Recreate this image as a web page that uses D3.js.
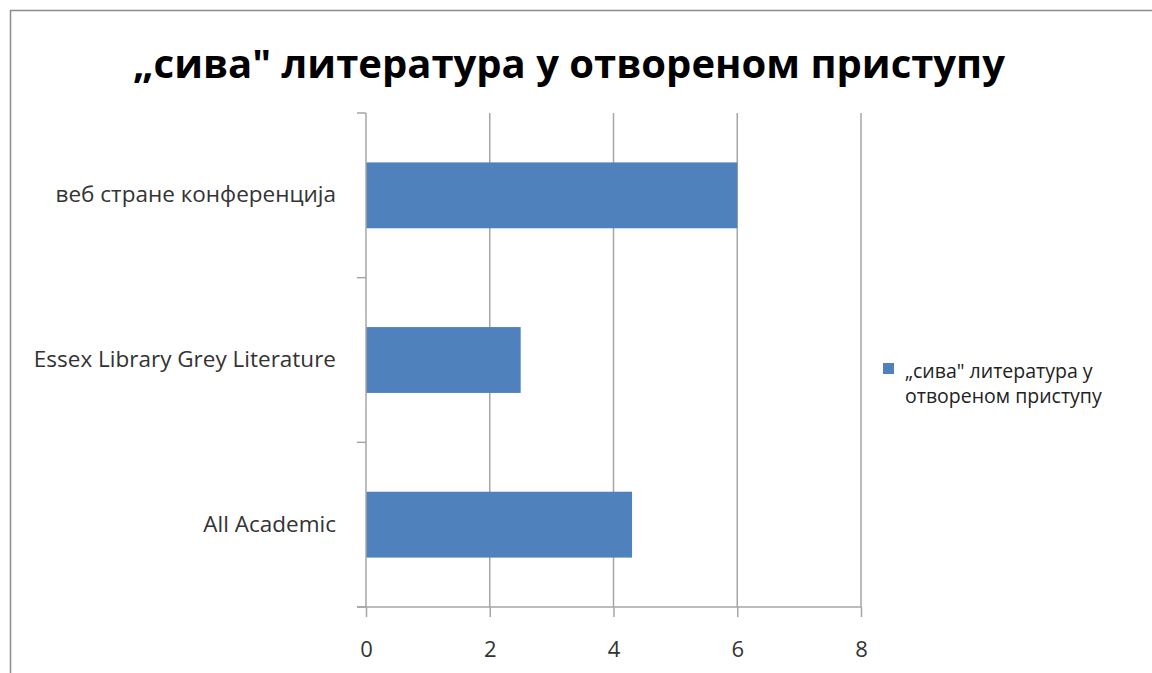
<!DOCTYPE html>
<html>
<head>
<meta charset="utf-8">
<script src="https://cdn.jsdelivr.net/npm/d3@7"></script>
<style>
  html, body { margin: 0; padding: 0; background: #fff; }
  svg { display: block; font-family: 'Open Sans', 'Noto Sans', sans-serif; }
</style>
</head>
<body>
<div id="chart-area"></div>
<script>
const title = '„сива" литература у отвореном приступу';
const categories = ['веб стране конференција', 'Essex Library Grey Literature', 'All Academic'];
const values = [6, 2.5, 4.3];
const xTicks = [0, 2, 4, 6, 8];
const seriesName = ['„сива" литература у', 'отвореном приступу'];

let width = 1152;
let height = 673;
let plot = { left: 366, right: 861, top: 113, bottom: 607 };
let barColor = '#4f81bd';
let gridColor = '#a6a6a6';
let font = "'Open Sans', 'Noto Sans', sans-serif";

let svg = d3
  .select('#chart-area')
  .append('svg')
  .attr('width', width)
  .attr('height', height);

//outer frame
svg
  .append('rect')
  .attr('x', 10.5)
  .attr('y', 10.5)
  .attr('width', width + 20)
  .attr('height', height + 20)
  .attr('fill', 'none')
  .attr('stroke', '#8c8c8c')
  .attr('stroke-width', 1.5);

let xScale = d3.scaleLinear().domain([0, 8]).range([plot.left, plot.right]);
let yScale = d3
  .scaleBand()
  .domain(categories)
  .range([plot.top, plot.bottom])
  .paddingInner(0.6)
  .paddingOuter(0.3);

//gridlines
svg
  .append('g')
  .selectAll('line')
  .data(xTicks.slice(1))
  .enter()
  .append('line')
  .attr('x1', (d) => xScale(d))
  .attr('x2', (d) => xScale(d))
  .attr('y1', plot.top)
  .attr('y2', plot.bottom)
  .attr('stroke', gridColor)
  .attr('stroke-width', 1.5);

//bars
svg
  .append('g')
  .selectAll('rect')
  .data(values)
  .enter()
  .append('rect')
  .attr('x', xScale(0))
  .attr('y', (d, i) => yScale(categories[i]))
  .attr('width', (d) => xScale(d) - xScale(0))
  .attr('height', yScale.bandwidth())
  .attr('fill', barColor);

//x axis
let xAxis = d3.axisBottom(xScale).tickValues(xTicks).tickSize(10).tickPadding(24);
let gx = svg
  .append('g')
  .attr('transform', `translate(0, ${plot.bottom})`)
  .call(xAxis)
  .attr('font-family', font);
gx.select('.domain').attr('stroke', gridColor).attr('stroke-width', 1.5)
  .attr('d', `M${plot.left - 9},0H${plot.right}`);
gx.selectAll('.tick line').attr('stroke', gridColor).attr('stroke-width', 1.5);
gx.selectAll('.tick text').attr('font-size', 22).attr('fill', '#333');

//y axis
let yEdges = d3.range(categories.length + 1).map(
  (i) => plot.top + (i * (plot.bottom - plot.top)) / categories.length,
);
let gy = svg.append('g');
gy.append('line')
  .attr('x1', plot.left)
  .attr('x2', plot.left)
  .attr('y1', plot.top)
  .attr('y2', plot.bottom)
  .attr('stroke', gridColor)
  .attr('stroke-width', 1.5);
gy.selectAll('.ytick')
  .data(yEdges)
  .enter()
  .append('line')
  .attr('x1', plot.left - 9)
  .attr('x2', plot.left)
  .attr('y1', (d) => d)
  .attr('y2', (d) => d)
  .attr('stroke', gridColor)
  .attr('stroke-width', 1.5);
gy.selectAll('text')
  .data(categories)
  .enter()
  .append('text')
  .attr('x', plot.left - 30)
  .attr('y', (d) => yScale(d) + yScale.bandwidth() / 2 + 7)
  .attr('text-anchor', 'end')
  .attr('font-size', 22.5)
  .attr('fill', '#333')
  .text((d) => d);

//title
svg
  .append('text')
  .attr('x', 569)
  .attr('y', 78)
  .attr('text-anchor', 'middle')
  .attr('font-size', 40)
  .attr('font-weight', 'bold')
  .attr('fill', '#000')
  .text(title);

//legend
let legend = svg.append('g').attr('transform', 'translate(883, 363)');
legend.append('rect').attr('width', 11).attr('height', 11).attr('fill', barColor);
legend
  .selectAll('text')
  .data(seriesName)
  .enter()
  .append('text')
  .attr('x', 22)
  .attr('y', (d, i) => 15 + i * 25)
  .attr('font-size', 19.5)
  .attr('fill', '#222')
  .text((d) => d);
</script>
</body>
</html>
